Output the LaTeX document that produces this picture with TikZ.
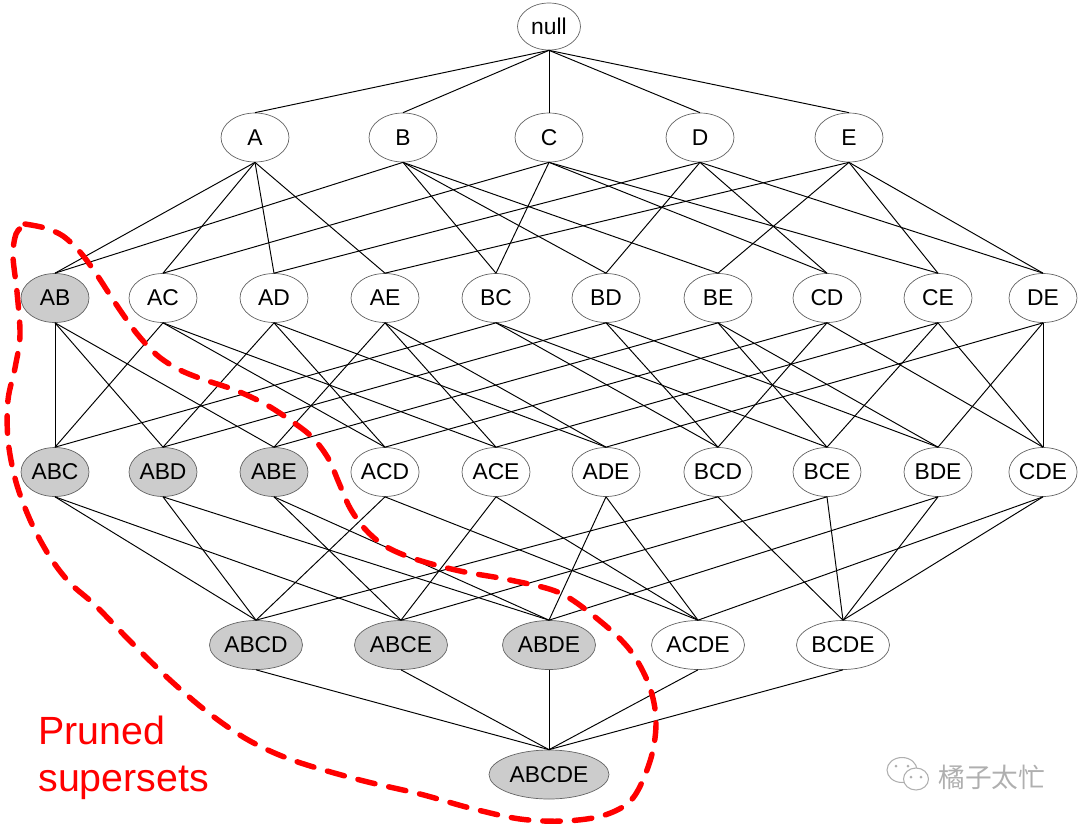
\documentclass[tikz,border=0pt]{standalone}
\usepackage{fontspec}
\setmainfont{Liberation Sans}
\newfontfamily\cjkfont{Noto Sans CJK SC}
\usetikzlibrary{shapes.geometric}
\definecolor{nodeEdge}{RGB}{100,100,100}
\definecolor{prunedFill}{RGB}{204,204,204}
\definecolor{pruneRed}{RGB}{255,0,0}
\definecolor{markGray}{RGB}{175,175,175}

\begin{document}
\begin{tikzpicture}[x=0.02cm, y=-0.02cm,
    itemset/.style={ellipse, draw=nodeEdge, line width=0.4pt, fill=white, inner sep=0pt,
      minimum width=1.36cm, minimum height=0.98cm, font=\fontsize{13}{15}\selectfont},
    plain/.style={},
    pruned/.style={fill=prunedFill},
    link/.style={line width=0.55pt, black},
    fence/.style={pruneRed, line width=3.1pt, line cap=round, dash pattern=on 10pt off 8pt},
    note/.style={pruneRed, align=left, inner sep=0pt, font=\fontsize{22.4}{26.7}\selectfont},
    wmtext/.style={markGray, inner sep=0pt, font=\cjkfont\fontsize{15.2}{16}\selectfont}]
    \useasboundingbox (0,0) rectangle (1080,826);
    % top: the empty set
    \node[itemset, minimum width=1.26cm, minimum height=0.94cm] (null) at (549,26.5) {null};
    % 1-itemsets
    \foreach \n/\x in {A/255,B/403,C/549,D/700,E/849}
      \node[itemset] (\n) at (\x,137.5) {\n};
    % 2-itemsets (AB is infrequent)
    \foreach \n/\x/\s in {AB/55/pruned,AC/163/plain,AD/274/plain,AE/385/plain,BC/496/plain,
                          BD/606/plain,BE/718/plain,CD/827/plain,CE/938/plain,DE/1043/plain}
      \node[itemset, \s] (\n) at (\x,298) {\n};
    % 3-itemsets
    \foreach \n/\x/\s in {ABC/55/pruned,ABD/163/pruned,ABE/274/pruned,ACD/385/plain,ACE/496/plain,
                          ADE/606/plain,BCD/718/plain,BCE/827/plain,BDE/938/plain,CDE/1043/plain}
      \node[itemset, \s] (\n) at (\x,472) {\n};
    % 4-itemsets
    \foreach \n/\x/\s in {ABCD/256/pruned,ABCE/401/pruned,ABDE/549/pruned,ACDE/698/plain,BCDE/843/plain}
      \node[itemset, \s, minimum width=1.86cm] (\n) at (\x,645) {\n};
    % the full itemset
    \node[itemset, pruned, minimum width=2.4cm] (ABCDE) at (549,774.5) {ABCDE};

    % lattice edges: child / its parents one level up
    \foreach \c/\ps in {A/{null},B/{null},C/{null},D/{null},E/{null},
        AB/{A,B},AC/{A,C},AD/{A,D},AE/{A,E},BC/{B,C},BD/{B,D},BE/{B,E},CD/{C,D},CE/{C,E},DE/{D,E},
        ABC/{AB,AC,BC},ABD/{AB,AD,BD},ABE/{AB,AE,BE},ACD/{AC,AD,CD},ACE/{AC,AE,CE},
        ADE/{AD,AE,DE},BCD/{BC,BD,CD},BCE/{BC,BE,CE},BDE/{BD,BE,DE},CDE/{CD,CE,DE},
        ABCD/{ABC,ABD,ACD,BCD},ABCE/{ABC,ABE,ACE,BCE},ABDE/{ABD,ABE,ADE,BDE},
        ACDE/{ACD,ACE,ADE,CDE},BCDE/{BCD,BCE,BDE,CDE},
        ABCDE/{ABCD,ABCE,ABDE,ACDE,BCDE}}
      \foreach \p in \ps
        \draw[link] (\p.south) -- (\c.north);

    % dashed boundary round the pruned supersets
    \draw[fence] plot[smooth, tension=0.55] coordinates {
      (25,224) (45,228) (63,236) (80,252) (95,272) (110,295) (122,313) (138,335)
      (158,356) (180,370) (205,380) (235,390) (265,404) (290,420) (312,437) (328,458)
      (339,483) (350,508) (365,529) (385,546) (415,559) (460,571) (510,580) (560,593)
      (600,621) (630,650) (649,685) (656,720) (651,758) (633,798) (605,815) (565,821)
      (520,819) (470,808) (420,794) (360,780) (295,761) (250,741) (210,714) (170,680)
      (130,641) (95,605) (70,583) (50,557) (31,522) (16,482) (8,440) (8,400) (15,368)
      (20,335) (17,292) (13,256) (16,234) (24,225)};
    \node[note, anchor=north west] (label) at (38,716) {Pruned\\supersets};

    % watermark
    \draw[markGray, line width=0.6pt, fill=white] (902,770) ellipse (0.3cm and 0.25cm);
    \foreach \x in {896,908} \fill[markGray] (\x,766) circle (0.03cm);
    \draw[markGray, line width=0.6pt, fill=white] (916,779) ellipse (0.25cm and 0.22cm);
    \foreach \x in {911,921} \fill[markGray] (\x,777) circle (0.03cm);
    \node[wmtext, anchor=west] (wm) at (938,777) {橘子太忙};
  \end{tikzpicture}
\end{document}
